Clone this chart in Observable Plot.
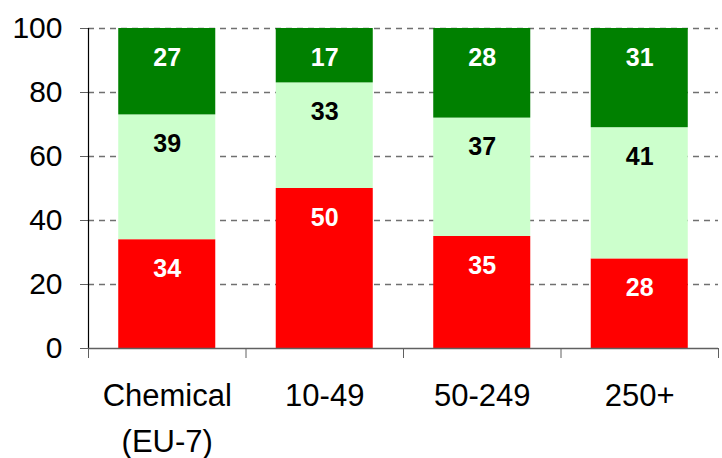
<!DOCTYPE html>
<html>
<head>
<meta charset="utf-8">
<script src="https://cdn.jsdelivr.net/npm/d3@7"></script>
<script src="https://cdn.jsdelivr.net/npm/@observablehq/plot@0.6"></script>
<style>
  html, body { margin: 0; padding: 0; background: #fff; }
  svg { font-family: "Liberation Sans", Arial, sans-serif; }
</style>
</head>
<body>
<div id="chart"></div>
<script>
const categories = ["Chemical\n(EU-7)", "10-49", "50-249", "250+"];
const seriesNames = ["Red", "Light green", "Dark green"];
const redValues = [34, 50, 35, 28];
const lightGreenValues = [39, 33, 37, 41];
const darkGreenValues = [27, 17, 28, 31];
const yTicks = [0, 20, 40, 60, 80, 100];

const colors = {"Red": "#FF0000", "Light green": "#CCFFCC", "Dark green": "#008000"};
const textColors = {"Red": "#FFFFFF", "Light green": "#000000", "Dark green": "#FFFFFF"};

const seriesValues = [redValues, lightGreenValues, darkGreenValues];
const rows = [];
categories.forEach((c, i) => {
  let acc = 0;
  seriesNames.forEach((s, k) => {
    const v = seriesValues[k][i];
    rows.push({i, category: c, series: s, value: v, y1: acc, y2: acc + v});
    acc += v;
  });
});

const chart = Plot.plot({
  width: 722,
  height: 458,
  marginLeft: 88,
  marginRight: 4,
  marginTop: 28,
  marginBottom: 110,
  x: {domain: [0, categories.length], axis: null},
  y: {domain: [0, 100], axis: null},
  style: {fontFamily: "Liberation Sans, Arial, sans-serif", background: "#fff"},
  marks: [
    Plot.ruleY(yTicks.filter(d => d > 0), {stroke: "#707070", strokeDasharray: "6,5", strokeWidth: 1.4}),
    Plot.rect(rows, {
      x1: d => d.i + 0.192,
      x2: d => d.i + 0.808,
      y1: "y1",
      y2: "y2",
      fill: d => colors[d.series]
    }),
    Plot.axisY({ticks: yTicks, tickSize: 8, tickPadding: 18, fontSize: 30, stroke: "#606060", color: "#000", tickFormat: d => d}),
    Plot.ruleX([0], {stroke: "#000", strokeWidth: 1.2}),
    Plot.ruleY([0], {stroke: "#606060", strokeWidth: 1.3}),
    Plot.axisX({ticks: d3.range(categories.length + 1), tickSize: 10, tickFormat: () => "", stroke: "#606060"}),
    Plot.text(categories, {
      x: (d, i) => i + 0.5,
      y: 0,
      text: d => d,
      dy: 24,
      lineAnchor: "top",
      lineHeight: 1.5,
      fontSize: 31,
      fill: "#000"
    }),
    Plot.text(rows, {
      x: d => d.i + 0.5,
      y: "y2",
      text: d => String(d.value),
      dy: 29,
      fontSize: 25,
      fontWeight: "bold",
      fill: d => textColors[d.series],
      letterSpacing: 2
    })
  ]
});
document.getElementById("chart").appendChild(chart);
</script>
</body>
</html>
